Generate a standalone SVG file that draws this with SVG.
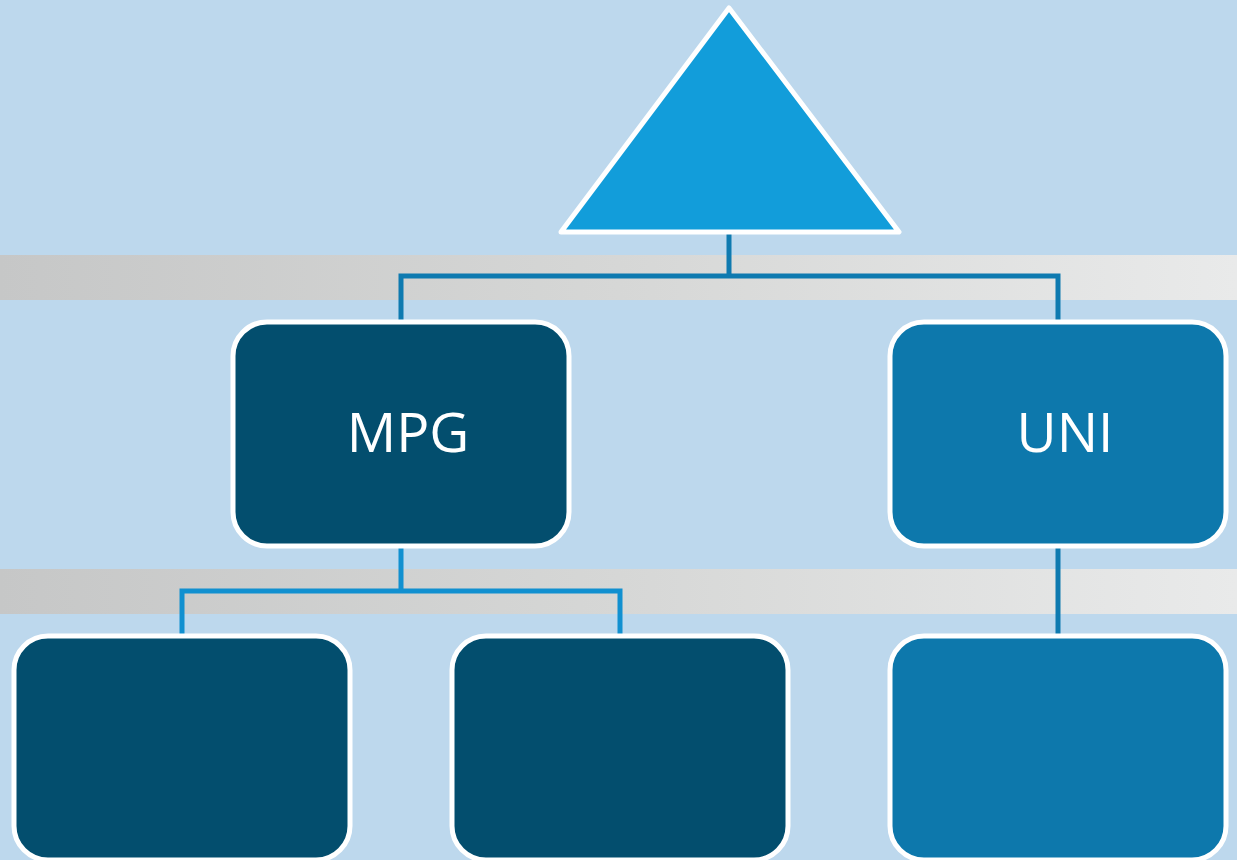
<svg xmlns="http://www.w3.org/2000/svg" width="1237" height="860" viewBox="0 0 1237 860">
  <defs>
    <linearGradient id="band" x1="0" y1="0" x2="1" y2="0">
      <stop offset="0" stop-color="#C6C7C7"/>
      <stop offset="0.5" stop-color="#D6D7D6"/>
      <stop offset="1" stop-color="#E9EAEA"/>
    </linearGradient>
    <style>
      .box { stroke: #FFFFFF; stroke-width: 5; }
      .dark { fill: #034E6E; }
      .mid { fill: #0D78AC; }
      .lbl { fill: #FFFFFF; font-family: "Open Sans", "Noto Sans", sans-serif; font-size: 55px; text-anchor: middle; }
      .c1 { stroke: #0E7AB0; stroke-width: 5; fill: none; stroke-linecap: square; }
      .c2 { stroke: #1190D0; stroke-width: 5; fill: none; stroke-linecap: square; }
    </style>
  </defs>

  <!-- background and horizontal bands -->
  <rect x="0" y="0" width="1237" height="860" fill="#BDD8ED"/>
  <rect x="0" y="255" width="1237" height="45" fill="url(#band)"/>
  <rect x="0" y="569" width="1237" height="45" fill="url(#band)"/>

  <!-- connectors -->
  <g id="connectors">
    <path class="c1" d="M729,234 V276 M401,276 H1058 M401,276 V318 M1058,276 V318"/>
    <path class="c2" d="M401,549 V591 M182,591 H620 M182,591 V633 M620,591 V633"/>
    <path class="c1" d="M1058,549 V633"/>
  </g>

  <g id="top">
    <polygon points="729,8 899,232 561,232" fill="#129DDA" stroke="#FFFFFF" stroke-width="5" stroke-linejoin="round"/>
  </g>

  <g id="mpg">
    <rect class="box dark" x="233" y="322" width="336" height="224" rx="34"/>
    <text class="lbl" x="408" y="452">MPG</text>
  </g>

  <g id="uni">
    <rect class="box mid" x="890" y="322" width="336" height="224" rx="34"/>
    <text class="lbl" x="1065" y="452">UNI</text>
  </g>

  <g id="mpg-child-1">
    <rect class="box dark" x="14" y="636" width="336" height="224" rx="34"/>
  </g>

  <g id="mpg-child-2">
    <rect class="box dark" x="452" y="636" width="336" height="224" rx="34"/>
  </g>

  <g id="uni-child">
    <rect class="box mid" x="890" y="636" width="336" height="224" rx="34"/>
  </g>
</svg>
